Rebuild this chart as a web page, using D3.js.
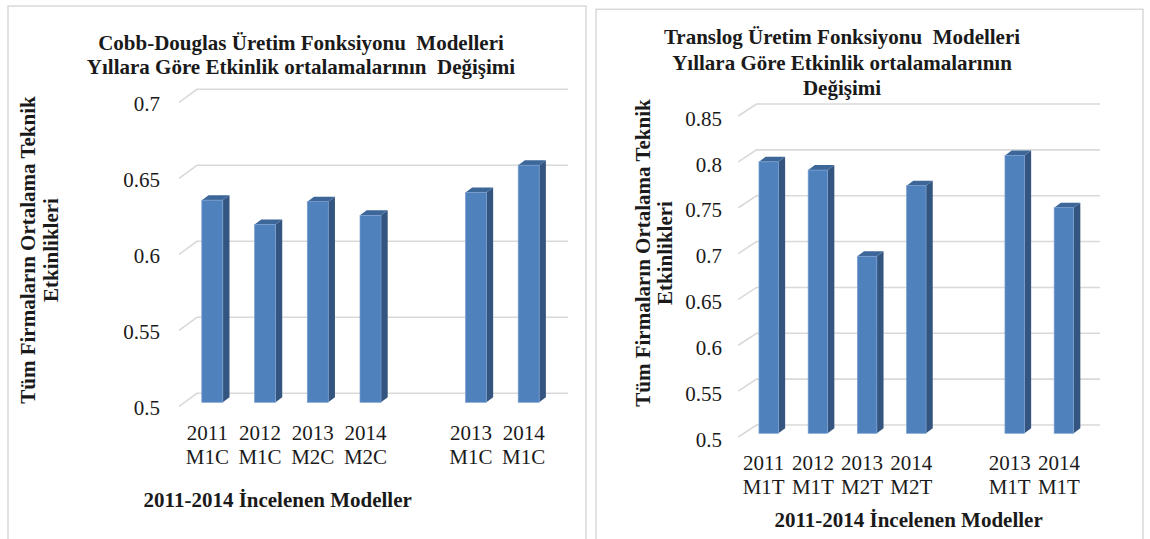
<!DOCTYPE html>
<html>
<head>
<meta charset="utf-8">
<script src="https://cdn.jsdelivr.net/npm/d3@7.9.0/dist/d3.min.js"></script>
<style>
  body { margin: 0; background: #fff; }
  svg text { font-family: "Liberation Serif", "Times New Roman", serif; fill: #1a1a1a; }
</style>
</head>
<body>
<svg id="chart" width="1150" height="539"></svg>
<script>
// --- data ---
const cdCategories = ['2011 M1C', '2012 M1C', '2013 M2C', '2014 M2C', '', '2013 M1C', '2014 M1C'];
const cdValues     = [0.633, 0.617, 0.632, 0.623, null, 0.638, 0.656];
const cdTicks      = [0.5, 0.55, 0.6, 0.65, 0.7];
const cdTitle      = ['Cobb-Douglas Üretim Fonksiyonu  Modelleri', 'Yıllara Göre Etkinlik ortalamalarının  Değişimi'];

const tlCategories = ['2011 M1T', '2012 M1T', '2013 M2T', '2014 M2T', '', '2013 M1T', '2014 M1T'];
const tlValues     = [0.796, 0.787, 0.693, 0.770, null, 0.803, 0.746];
const tlTicks      = [0.5, 0.55, 0.6, 0.65, 0.7, 0.75, 0.8, 0.85];
const tlTitle      = ['Translog Üretim Fonksiyonu  Modelleri', 'Yıllara Göre Etkinlik ortalamalarının', 'Değişimi'];

const yTitle = ['Tüm Firmaların Ortalama Teknik', 'Etkinlikleri'];
const xTitle = '2011-2014 İncelenen Modeller';

const svg = d3.select('#chart');
const serif = '"Liberation Serif", "Times New Roman", serif';

function drawChart(cfg) {
  const g = svg.append('g');

  // panel frame
  g.append('rect')
   .attr('x', cfg.frame[0]).attr('y', cfg.frame[1])
   .attr('width', cfg.frame[2]).attr('height', cfg.frame[3])
   .attr('fill', 'none').attr('stroke', '#d9d9d9').attr('stroke-width', 1.5);

  const yBack = d3.scaleLinear()
    .domain(d3.extent(cfg.ticks))
    .range(cfg.backY);
  const yFront = v => yBack(v) + cfg.frontOff;

  const x = d3.scaleBand()
    .domain(cfg.categories)
    .range(cfg.xRange)
    .paddingInner(cfg.padInner)
    .paddingOuter(0.3);

  // 3d gridlines: side wall diagonal + back wall line
  g.append('g').selectAll('path')
   .data(cfg.ticks)
   .join('path')
     .attr('d', t => {
       const yb = yBack(t);
       return `M${cfg.gridFrontX},${yb + cfg.gridDy} L${cfg.gridBackX},${yb} L${cfg.gridRightX},${yb}`;
     })
     .attr('fill', 'none')
     .attr('stroke', '#d9d9d9')
     .attr('stroke-width', 1.6);

  // y tick labels
  const labelScale = yBack.copy().range(cfg.backY.map(v => v + 14.5));
  const yAxis = g.append('g')
    .attr('transform', `translate(${cfg.tickRight},0)`)
    .call(d3.axisLeft(labelScale)
      .tickValues(cfg.ticks)
      .tickSize(0)
      .tickPadding(0)
      .tickFormat(d => String(+d.toFixed(2))));
  yAxis.attr('font-family', null).attr('font-size', null);
  yAxis.select('.domain').remove();
  yAxis.selectAll('text')
    .style('font-family', serif)
    .style('font-size', '21px')
    .style('fill', '#1a1a1a');

  // bars
  const depthX = 6.7, depthY = 5;
  const bars = cfg.categories.map((c, i) => ({ c, v: cfg.values[i] })).filter(d => d.v != null);
  const bg = g.append('g').selectAll('g').data(bars).join('g');
  const base = cfg.ticks[0];

  bg.append('path') // side
    .attr('d', d => {
      const xr = x(d.c) + x.bandwidth(), yt = yFront(d.v), yb = yFront(base);
      return `M${xr},${yt} L${xr + depthX},${yt - depthY} L${xr + depthX},${yb - depthY} L${xr},${yb} Z`;
    })
    .attr('fill', '#34557f');

  bg.append('path') // top
    .attr('d', d => {
      const xl = x(d.c), xr = xl + x.bandwidth(), yt = yFront(d.v);
      return `M${xl},${yt} L${xr},${yt} L${xr + depthX},${yt - depthY} L${xl + depthX},${yt - depthY} Z`;
    })
    .attr('fill', '#3d6699');

  bg.append('rect') // front
    .attr('x', d => x(d.c))
    .attr('y', d => yFront(d.v))
    .attr('width', x.bandwidth())
    .attr('height', d => yFront(base) - yFront(d.v))
    .attr('fill', '#4f81bd')
    .attr('stroke', '#7aa0d2')
    .attr('stroke-width', 0.7);

  // category labels (two rows)
  const lab = g.append('g').selectAll('text')
    .data(cfg.categories.filter(c => c !== ''))
    .join('text')
      .attr('text-anchor', 'middle')
      .attr('font-size', 21);
  lab.each(function (c) {
    const parts = c.split(' ');
    const cx = x(c) + x.bandwidth() / 2 - 5;
    d3.select(this).selectAll('tspan')
      .data(parts)
      .join('tspan')
        .attr('x', cx)
        .attr('y', (p, j) => cfg.labelRows[j])
        .attr('dominant-baseline', 'central')
        .text(p => p);
  });

  // chart title
  g.append('g').selectAll('text')
   .data(cfg.title)
   .join('text')
     .attr('x', cfg.titleX)
     .attr('y', (t, i) => cfg.titleY[i])
     .attr('text-anchor', 'middle')
     .attr('dominant-baseline', 'central')
     .attr('font-size', 21)
     .attr('font-weight', 'bold')
     .style('white-space', 'pre')
     .text(t => t);

  // y axis title
  g.append('g').selectAll('text')
   .data(yTitle)
   .join('text')
     .attr('transform', (t, i) => `translate(${cfg.yTitleX[i]},${cfg.yTitleY}) rotate(-90)`)
     .attr('text-anchor', 'middle')
     .attr('dominant-baseline', 'central')
     .attr('font-size', 21)
     .attr('font-weight', 'bold')
     .text(t => t);

  // x axis title
  g.append('text')
   .attr('x', cfg.xTitlePos[0])
   .attr('y', cfg.xTitlePos[1])
   .attr('text-anchor', 'middle')
   .attr('dominant-baseline', 'central')
   .attr('font-size', 21)
   .attr('font-weight', 'bold')
   .text(xTitle);
}

drawChart({
  categories: cdCategories, values: cdValues, ticks: cdTicks, title: cdTitle,
  frame: [8, 6, 578, 560],
  backY: [393.3, 89.3], frontOff: 9,
  xRange: [186, 555], padInner: 0.602,
  gridFrontX: 179, gridBackX: 197, gridRightX: 568, gridDy: 13,
  tickRight: 160,
  labelRows: [433.3, 456.7],
  titleX: 301, titleY: [43, 66.7],
  yTitleX: [28, 51], yTitleY: 250,
  xTitlePos: [277.7, 500]
});

drawChart({
  categories: tlCategories, values: tlValues, ticks: tlTicks, title: tlTitle,
  frame: [596, 9.3, 547, 560],
  backY: [425, 104], frontOff: 8.3,
  xRange: [744.2, 1088.4], padInner: 0.604,
  gridFrontX: 738.3, gridBackX: 756.5, gridRightX: 1100, gridDy: 12,
  tickRight: 722,
  labelRows: [463.3, 486.7],
  titleX: 842, titleY: [36.7, 62.5, 88.3],
  yTitleX: [643, 665], yTitleY: 253,
  xTitlePos: [908.6, 520]
});
</script>
</body>
</html>
